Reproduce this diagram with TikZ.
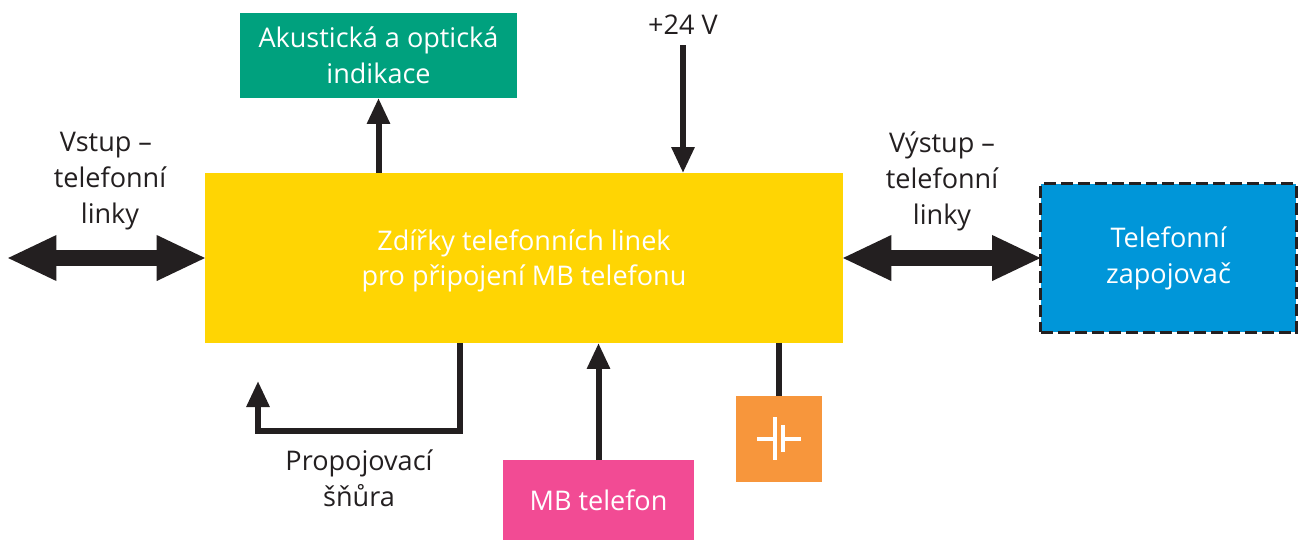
\documentclass[tikz,border=0pt]{standalone}
\usepackage{fontspec}
\setmainfont{Open Sans}
\usetikzlibrary{arrows.meta}
\definecolor{tmava}{HTML}{231F20}
\definecolor{zluta}{HTML}{FFD503}
\definecolor{zelena}{HTML}{00A17E}
\definecolor{modra}{HTML}{0096D9}
\definecolor{ruzova}{HTML}{F24B94}
\definecolor{oranzova}{HTML}{F7963C}
\tikzset{
	blok/.style={rectangle, outer sep=0, inner sep=0, text=white, align=center, font=\fontsize{15.4}{20.5}\selectfont},
	popis/.style={outer sep=0, inner sep=0, text=tmava, align=center, font=\fontsize{15.4}{20.5}\selectfont},
	tenka/.style={draw=tmava, line width=.12cm, -{Triangle[length=.52cm, width=.44cm]}},
	tlusta/.style={draw=tmava, line width=.32cm, shorten <=-.03cm, shorten >=-.03cm, {Triangle[length=1cm, width=.84cm]}-{Triangle[length=1cm, width=.84cm]}},
	spoj/.style={draw=tmava, line width=.12cm},
	clanek/.style={draw=white, line width=.08cm}
}
\begin{document}
\begin{tikzpicture}[x=0.02cm, y=-0.02cm]
	\useasboundingbox (0,0) rectangle (1298,539);
	
	\node[blok, fill=zluta, minimum width=12.76cm, minimum height=3.4cm, text depth=0pt] (zdirky) at (524,258) {\raisebox{-.02cm}{Zdířky telefonních linek}\\pro připojení MB telefonu};
	\node[blok, fill=zelena, minimum width=5.54cm, minimum height=1.7cm] (indikace) at (378.5,55.5) {Akustická a optická\\indikace};
	\node[blok, fill=modra, draw=tmava, dashed, dash pattern=on .24cm off .1cm, line width=.06cm, minimum width=5.12cm, minimum height=2.98cm] (zapojovac) at (1168.5,258) {\raisebox{-.02cm}{Telefonní}\\\raisebox{-.02cm}{zapojovač}};
	\node[blok, fill=ruzova, minimum width=3.82cm, minimum height=1.6cm] (telefon) at (598.5,500) {\raisebox{-.03cm}{MB telefon}};
	\node[blok, fill=oranzova, minimum width=1.72cm, minimum height=1.72cm] (baterie) at (779,439) {};
	
	\node[popis] (napeti) at (683,25) {+24 V};
	\node[popis] (vstup) at (110,181) {\hspace*{-.16cm}Vstup –\\telefonní\\linky};
	\node[popis] (vystup) at (942,181) {Výstup –\\telefonní\\linky};
	\node[popis] (snura) at (359,478) {Propojovací\\šňůra};
	
	\coordinate (vstupkonec) at (8,258);
	\coordinate (napetikonec) at (683,45);
	\coordinate (snurastart) at (460,343);
	\coordinate (snuraroh) at (258,431);
	\coordinate (snuracil) at (258,381);
	
	\draw[tlusta] (vstupkonec) -- (zdirky.west);
	\draw[tlusta] (zdirky.east) -- (zapojovac.west);
	\draw[tenka] (zdirky.north -| indikace.south) -- (indikace.south);
	\draw[tenka] (napetikonec) -- (zdirky.north -| napetikonec);
	\draw[tenka] (telefon.north) -- (zdirky.south -| telefon.north);
	\draw[spoj] (zdirky.south -| baterie.north) -- (baterie.north);
	\draw[tenka] (snurastart) |- (snuraroh) -- (snuracil);
	
	% baterie
	\coordinate (levy) at (757,439);
	\coordinate (desky1) at (775,439);
	\coordinate (desky2) at (783,439);
	\coordinate (pravy) at (801,439);
	\draw[clanek] (levy) -- (desky1);
	\draw[clanek] (desky2) -- (pravy);
	\draw[clanek] (775,417) -- (775,460);
	\draw[clanek] (783,425) -- (783,452);
\end{tikzpicture}
\end{document}
